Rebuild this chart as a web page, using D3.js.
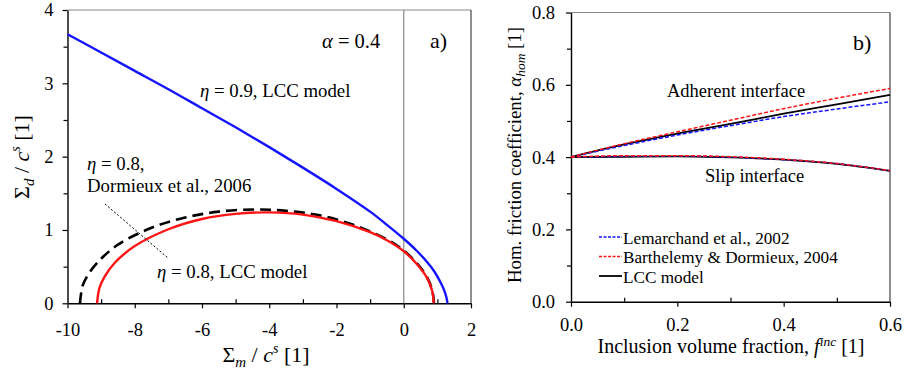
<!DOCTYPE html>
<html>
<head>
<meta charset="utf-8">
<script src="https://cdn.jsdelivr.net/npm/d3@7"></script>
<style>
  body { margin: 0; background: #fff; }
  svg text { font-family: "Liberation Serif", "Times New Roman", serif; fill: #000; }
</style>
</head>
<body>
<svg id="chart" width="910" height="374"></svg>
<script>
// ---- panel a) : yield surfaces ----
const blueX = [-10, -9, -8, -7, -6, -5, -4, -3, -2, -1, -0.5, 0, 0.4, 0.7, 0.9, 1.1, 1.2, 1.27, 1.3]
const blueY = [3.67, 3.42, 3.17, 2.92, 2.66, 2.40, 2.13, 1.85, 1.56, 1.25, 1.07, 0.88, 0.71, 0.56, 0.44, 0.28, 0.18, 0.08, 0]

const redX = [-9.12, -9.05, -8.9, -8.6, -8, -7, -6, -5, -4, -3, -2, -1, -0.5, 0, 0.4, 0.7, 0.85, 0.89]
const redY = [0, 0.21, 0.36, 0.55, 0.78, 1.01, 1.15, 1.22, 1.24, 1.21, 1.12, 0.97, 0.86, 0.71, 0.53, 0.34, 0.16, 0]

const dormX = [-9.63, -9.55, -9.4, -9.1, -8.5, -7.5, -6.5, -5.5, -4.4, -3.5, -2.5, -1.5, -0.5, 0, 0.4, 0.7, 0.85, 0.9]
const dormY = [0, 0.24, 0.38, 0.56, 0.80, 1.03, 1.17, 1.25, 1.28, 1.26, 1.20, 1.07, 0.87, 0.72, 0.54, 0.35, 0.17, 0]

const leftXTicks = [-10, -8, -6, -4, -2, 0, 2]
const leftXMinor = [-9, -7, -5, -3, -1, 1]
const leftYTicks = [0, 1, 2, 3, 4]
const leftYMinor = [0.5, 1.5, 2.5, 3.5]

// ---- panel b) : homogenized friction coefficient ----
const fInc = [0, 0.1, 0.2, 0.3, 0.4, 0.5, 0.6]
const adhLemarchand = [0.400, 0.432, 0.461, 0.487, 0.512, 0.533, 0.553]
const adhBarthelemy = [0.400, 0.437, 0.470, 0.502, 0.534, 0.563, 0.590]
const adhLCC = [0.400, 0.435, 0.465, 0.492, 0.520, 0.546, 0.572]
const slipLemarchand = [0.400, 0.402, 0.403, 0.400, 0.393, 0.382, 0.362]
const slipBarthelemy = [0.400, 0.404, 0.404, 0.401, 0.394, 0.382, 0.363]
const slipLCC = [0.400, 0.401, 0.402, 0.399, 0.393, 0.381, 0.362]

const rightXTicks = [0, 0.2, 0.4, 0.6]
const rightXMinor = [0.1, 0.3, 0.5]
const rightYTicks = [0, 0.2, 0.4, 0.6, 0.8]
const rightYMinor = [0.1, 0.3, 0.5, 0.7]

const legendNames = ['Lemarchand et al., 2002', 'Barthelemy & Dormieux, 2004', 'LCC model']

const svg = d3.select('#chart')

const blue = '#1414ff'
const red = '#ff1414'

// scales
const xL = d3.scaleLinear().domain([-10, 2]).range([67.5, 471])
const yL = d3.scaleLinear().domain([0, 4]).range([303.3, 10])
const xR = d3.scaleLinear().domain([0, 0.6]).range([571, 890])
const yR = d3.scaleLinear().domain([0, 0.8]).range([301.7, 12.5])

let styleAxis = (g, size) => {
    g.attr('font-family', null)
    g.selectAll('text').style('font-size', size + 'px').style('font-family', '"Liberation Serif", serif')
    g.selectAll('line').attr('stroke', '#000').attr('stroke-width', 1.2)
    g.select('.domain').attr('stroke', '#000').attr('stroke-width', 1.4)
}

let drawAxes = (x, y, xt, xm, yt, ym, xfmt, yfmt, xpad, ypad) => {
    let y0 = y.range()[0], y1 = y.range()[1]
    let x0 = x.range()[0], x1 = x.range()[1]

    // frame top and right
    svg.append('line').attr('x1', x0).attr('x2', x1).attr('y1', y1).attr('y2', y1)
        .attr('stroke', '#8a8a8a').attr('stroke-width', 1.2)
    svg.append('line').attr('x1', x1).attr('x2', x1).attr('y1', y1).attr('y2', y0)
        .attr('stroke', '#444').attr('stroke-width', 1.2)

    // minor ticks
    svg.append('g').attr('transform', 'translate(0,' + y0 + ')')
        .call(d3.axisBottom(x).tickValues(xm).tickSizeInner(-4).tickSizeOuter(0).tickFormat(''))
        .call(g => { styleAxis(g, 18); g.select('.domain').remove() })
    svg.append('g').attr('transform', 'translate(' + x0 + ',0)')
        .call(d3.axisLeft(y).tickValues(ym).tickSizeInner(4).tickSizeOuter(0).tickFormat(''))
        .call(g => { styleAxis(g, 18); g.select('.domain').remove() })

    // major ticks
    svg.append('g').attr('transform', 'translate(0,' + y0 + ')')
        .call(d3.axisBottom(x).tickValues(xt).tickSize(5).tickSizeOuter(0).tickPadding(xpad).tickFormat(xfmt))
        .call(g => styleAxis(g, 18.5))
    svg.append('g').attr('transform', 'translate(' + x0 + ',0)')
        .call(d3.axisLeft(y).tickValues(yt).tickSize(5).tickSizeOuter(0).tickPadding(ypad).tickFormat(yfmt))
        .call(g => styleAxis(g, 18.5))
}

// plain hyphen for negatives, like the original
let intFmt = d => String(d)
let oneDec = d => d.toFixed(1)

drawAxes(xL, yL, leftXTicks, leftXMinor, leftYTicks, leftYMinor, intFmt, intFmt, 15, 9)
drawAxes(xR, yR, rightXTicks, rightXMinor, rightYTicks, rightYMinor, oneDec, oneDec, 11, 11)

// vertical line at x = 0 in panel a
svg.append('line').attr('x1', xL(0)).attr('x2', xL(0)).attr('y1', yL(4)).attr('y2', yL(0))
    .attr('stroke', '#8a8a8a').attr('stroke-width', 1.2)

// curves panel a
let zipL = (xs, ys) => xs.map((v, i) => [v, ys[i]])

let drawCurve = (pts, color, width, dash) => {
    let p = svg.append('path').datum(pts)
        .attr('fill', 'none').attr('stroke', color).attr('stroke-width', width)
        .attr('d', d3.line().x(d => xL(d[0])).y(d => yL(d[1])).curve(d3.curveCatmullRom))
    if (dash) p.attr('stroke-dasharray', dash)
}
drawCurve(zipL(dormX, dormY), '#000', 2.6, '11,6')
drawCurve(zipL(redX, redY), red, 2.4)
drawCurve(zipL(blueX, blueY), blue, 2.4)

// leader line
svg.append('line').attr('x1', 105).attr('y1', 204).attr('x2', 168).attr('y2', 258)
    .attr('stroke', '#000').attr('stroke-width', 1).attr('stroke-dasharray', '2,2')

// annotations panel a
let addText = (x, y, size) => svg.append('text').attr('x', x).attr('y', y).style('font-size', size + 'px')

let t = addText(322, 48, 20.5)
t.append('tspan').style('font-style', 'italic').text('α')
t.append('tspan').text(' = 0.4')
addText(430, 48, 22).text('a)')

t = addText(200, 97, 18.8)
t.append('tspan').style('font-style', 'italic').text('η')
t.append('tspan').text(' = 0.9, LCC model')

t = addText(87, 170, 18.8)
t.append('tspan').style('font-style', 'italic').text('η')
t.append('tspan').text(' = 0.8,')
addText(87, 192, 18.8).text('Dormieux et al., 2006')

t = addText(157, 278, 18.8)
t.append('tspan').style('font-style', 'italic').text('η')
t.append('tspan').text(' = 0.8, LCC model')

// axis titles panel a
t = svg.append('text').attr('x', 266).attr('y', 362).attr('text-anchor', 'middle').style('font-size', '22px')
t.append('tspan').text('Σ')
t.append('tspan').style('font-style', 'italic').style('font-size', '15px').attr('dy', 5).text('m')
t.append('tspan').attr('dy', -5).text(' / ')
t.append('tspan').style('font-style', 'italic').text('c')
t.append('tspan').style('font-style', 'italic').style('font-size', '14px').attr('dy', -9).text('s')
t.append('tspan').attr('dy', 9).text(' [1]')

t = svg.append('text').attr('transform', 'translate(29,157) rotate(-90)').attr('text-anchor', 'middle').style('font-size', '22px')
t.append('tspan').text('Σ')
t.append('tspan').style('font-style', 'italic').style('font-size', '15px').attr('dy', 5).text('d')
t.append('tspan').attr('dy', -5).text(' / ')
t.append('tspan').style('font-style', 'italic').text('c')
t.append('tspan').style('font-style', 'italic').style('font-size', '14px').attr('dy', -9).text('s')
t.append('tspan').attr('dy', 9).text(' [1]')

// panel b curves
let drawSeries = (ys, color, width, dash) => {
    let p = svg.append('path').datum(fInc.map((v, i) => [v, ys[i]]))
        .attr('fill', 'none').attr('stroke', color).attr('stroke-width', width)
        .attr('d', d3.line().x(d => xR(d[0])).y(d => yR(d[1])).curve(d3.curveMonotoneX))
    if (dash) p.attr('stroke-dasharray', dash)
}
drawSeries(adhLCC, '#000', 1.8)
drawSeries(slipLCC, '#000', 1.8)
drawSeries(adhLemarchand, blue, 1.5, '4,2')
drawSeries(slipLemarchand, blue, 1.5, '4,2')
drawSeries(adhBarthelemy, red, 1.5, '4,2')
drawSeries(slipBarthelemy, red, 1.5, '4,2')

addText(853, 50, 22).text('b)')
addText(667, 97, 18.5).text('Adherent interface')
addText(705, 182, 18.5).text('Slip interface')

// legend
const legendColors = [blue, red, '#000']
const legendDash = ['3,1.5', '3,1.5', null]
legendNames.forEach((name, i) => {
    let ly = 237 + i * 19.5
    let l = svg.append('line').attr('x1', 599).attr('x2', 622).attr('y1', ly).attr('y2', ly)
        .attr('stroke', legendColors[i]).attr('stroke-width', i == 2 ? 1.8 : 1.4)
    if (legendDash[i]) l.attr('stroke-dasharray', legendDash[i])
    addText(623, ly + 6.5, 17.2).text(name)
})

// axis titles panel b
t = svg.append('text').attr('x', 731).attr('y', 353).attr('text-anchor', 'middle').style('font-size', '20px')
t.append('tspan').text('Inclusion volume fraction, ')
t.append('tspan').style('font-style', 'italic').text('f')
t.append('tspan').style('font-style', 'italic').style('font-size', '13.5px').attr('dy', -7).text('inc')
t.append('tspan').attr('dy', 7).text(' [1]')

t = svg.append('text').attr('transform', 'translate(521,155) rotate(-90)').attr('text-anchor', 'middle').style('font-size', '18.8px')
t.append('tspan').text('Hom. friction coefficient, ')
t.append('tspan').style('font-style', 'italic').text('α')
t.append('tspan').style('font-style', 'italic').style('font-size', '13.5px').attr('dy', 4).text('hom')
t.append('tspan').attr('dy', -4).text(' [1]')
</script>
</body>
</html>
